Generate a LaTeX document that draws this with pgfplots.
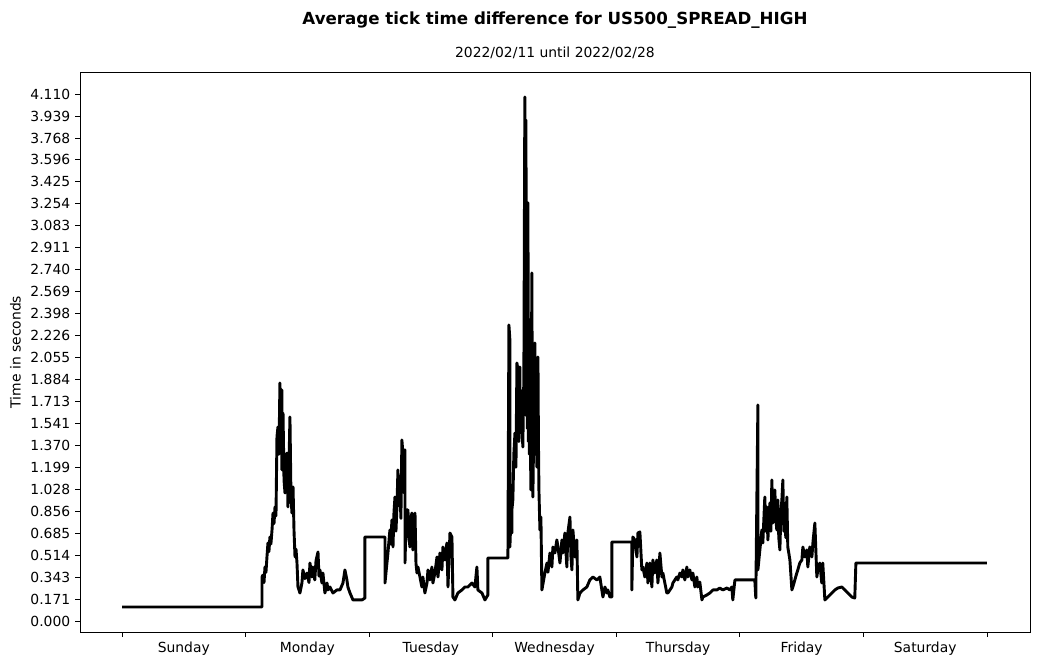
\documentclass[border=0pt]{standalone}
\usepackage{pgfplots}
\pgfplotsset{compat=1.18}
\usepackage{fontspec}
\setmainfont{DejaVu Sans}
\begin{document}
\begin{tikzpicture}
\begin{axis}[
  name=ax,
  scale only axis,
  width=684pt, height=403.2pt,
  xmin=-0.340, xmax=7.348,
  ymin=-0.086, ymax=4.282,
  axis line style={line width=0.6pt},
  tick align=outside,
  xtick pos=bottom, ytick pos=left,
  major tick length=3.5pt,
  tick style={black, line width=0.6pt},
  xtick={0,1,2,3,4,5,6,7},
  xticklabels={},
  extra x ticks={0.5,1.5,2.5,3.5,4.5,5.5,6.5},
  extra x tick labels={Sunday,Monday,Tuesday,Wednesday,Thursday,Friday,Saturday},
  extra x tick style={major tick length=0pt, xticklabel style={yshift=-3.5pt}},
  ytick={0,0.17125,0.3425,0.51375,0.685,0.85625,1.0275,1.19875,1.37,1.54125,1.7125,1.88375,2.055,2.22625,2.3975,2.56875,2.74,2.91125,3.0825,3.25375,3.425,3.59625,3.7675,3.93875,4.11},
  yticklabels={0.000,0.171,0.343,0.514,0.685,0.856,1.028,1.199,1.370,1.541,1.713,1.884,2.055,2.226,2.398,2.569,2.740,2.911,3.083,3.254,3.425,3.596,3.768,3.939,4.110},
  ticklabel style={font=\fontsize{10}{12}\selectfont},
  /pgf/number format/assume math mode=true,
  ylabel={Time in seconds},
  ylabel style={font=\fontsize{10}{12}\selectfont, at={(ticklabel cs:0.5)}, xshift=0pt},
  clip=true,
]
\addplot[black, line width=2.1pt, line join=round] coordinates {
(0,0.109)(1.133,0.109)
(1.133,0.343)(1.141,0.359)(1.149,0.300)(1.157,0.421)(1.165,0.380)(1.173,0.499)(1.181,0.608)(1.189,0.540)(1.197,0.655)(1.205,0.600)(1.214,0.710)(1.222,0.842)(1.230,0.760)(1.238,0.889)(1.246,0.820)(1.254,1.435)(1.262,1.513)(1.270,1.300)(1.278,1.856)(1.286,1.500)(1.294,1.802)(1.294,1.178)(1.303,1.622)(1.311,1.100)(1.319,0.998)(1.327,1.250)(1.335,1.310)(1.343,0.889)(1.351,1.200)(1.359,1.591)(1.367,1.000)(1.375,0.842)(1.384,1.045)(1.392,0.700)(1.400,0.499)(1.408,0.560)(1.416,0.452)(1.424,0.265)(1.440,0.218)(1.456,0.296)(1.464,0.398)(1.480,0.330)(1.497,0.374)(1.513,0.300)(1.521,0.452)(1.537,0.343)(1.545,0.421)(1.560,0.320)(1.570,0.470)(1.586,0.538)(1.594,0.350)(1.602,0.398)(1.618,0.296)(1.626,0.374)(1.642,0.218)(1.659,0.296)(1.667,0.242)(1.683,0.265)(1.707,0.218)(1.739,0.242)(1.764,0.242)(1.788,0.296)(1.804,0.398)(1.820,0.320)(1.828,0.265)(1.845,0.218)(1.869,0.164)(1.901,0.164)(1.942,0.164)(1.966,0.179)
(1.966,0.655)(2.128,0.655)
(2.128,0.296)(2.152,0.530)(2.168,0.710)(2.176,0.600)(2.184,0.788)(2.193,0.577)(2.201,0.850)(2.209,0.967)(2.217,0.700)(2.225,0.889)(2.233,1.178)(2.241,0.900)(2.249,1.045)(2.257,0.800)(2.265,1.412)(2.273,1.310)(2.281,1.000)(2.290,1.334)(2.290,0.452)(2.298,0.750)(2.306,0.866)(2.314,0.866)(2.322,0.650)(2.330,0.577)(2.338,0.800)(2.346,0.842)(2.354,0.554)(2.362,0.700)(2.371,0.842)(2.379,0.450)(2.387,0.374)(2.395,0.421)(2.411,0.343)(2.427,0.265)(2.435,0.343)(2.451,0.218)(2.468,0.296)(2.476,0.398)(2.492,0.320)(2.508,0.421)(2.516,0.296)(2.532,0.374)(2.549,0.499)(2.557,0.343)(2.573,0.530)(2.589,0.398)(2.597,0.577)(2.613,0.476)(2.629,0.608)(2.638,0.265)(2.654,0.686)(2.670,0.655)(2.678,0.187)(2.694,0.164)(2.718,0.218)(2.751,0.242)(2.775,0.265)(2.799,0.265)(2.832,0.296)(2.856,0.265)(2.872,0.421)(2.880,0.242)(2.913,0.218)(2.937,0.164)(2.961,0.203)
(2.961,0.491)(3.123,0.491)
(3.131,2.309)(3.139,2.192)(3.139,0.577)(3.147,0.800)(3.155,0.686)(3.155,0.866)(3.163,0.944)(3.171,1.300)(3.180,1.466)(3.188,1.200)(3.196,2.012)(3.204,1.958)(3.212,1.400)(3.220,1.981)(3.220,1.466)(3.228,1.800)(3.236,1.513)(3.244,1.357)(3.248,1.700)(3.252,1.880)(3.260,4.087)(3.264,2.200)(3.269,3.908)(3.273,1.600)(3.277,2.504)(3.281,1.500)(3.285,3.261)(3.289,1.400)(3.293,2.114)(3.297,1.300)(3.301,2.348)(3.305,1.400)(3.309,1.022)(3.313,1.900)(3.317,2.715)(3.321,1.200)(3.325,0.967)(3.333,1.600)(3.341,2.168)(3.346,1.300)(3.350,1.724)(3.358,1.200)(3.366,2.059)(3.370,1.400)(3.374,1.022)(3.382,0.710)(3.390,0.811)(3.398,0.242)(3.422,0.374)(3.439,0.452)(3.447,0.380)(3.463,0.530)(3.479,0.421)(3.487,0.577)(3.503,0.530)(3.519,0.632)(3.528,0.577)(3.544,0.452)(3.560,0.632)(3.568,0.530)(3.584,0.686)(3.600,0.421)(3.608,0.686)(3.625,0.811)(3.633,0.500)(3.641,0.398)(3.649,0.710)(3.665,0.499)(3.681,0.632)(3.689,0.164)(3.706,0.218)(3.730,0.242)(3.762,0.265)(3.786,0.320)(3.811,0.343)(3.843,0.320)(3.867,0.343)(3.883,0.242)(3.892,0.187)(3.908,0.265)(3.924,0.218)(3.932,0.242)(3.948,0.187)(3.964,0.187)
(3.964,0.616)(4.126,0.616)
(4.126,0.242)(4.134,0.655)(4.150,0.632)(4.167,0.499)(4.175,0.686)(4.191,0.694)(4.207,0.398)(4.215,0.421)(4.231,0.343)(4.248,0.452)(4.256,0.296)(4.272,0.452)(4.288,0.265)(4.296,0.476)(4.312,0.374)(4.328,0.476)(4.337,0.296)(4.353,0.530)(4.369,0.343)(4.377,0.374)(4.393,0.296)(4.409,0.218)(4.417,0.218)(4.434,0.242)(4.450,0.265)(4.458,0.296)(4.474,0.320)(4.490,0.343)(4.498,0.320)(4.515,0.374)(4.531,0.343)(4.539,0.398)(4.555,0.320)(4.571,0.421)(4.579,0.343)(4.595,0.398)(4.612,0.320)(4.620,0.374)(4.636,0.265)(4.652,0.343)(4.660,0.265)(4.676,0.304)(4.693,0.164)(4.701,0.187)(4.733,0.203)(4.757,0.218)(4.782,0.242)(4.814,0.242)(4.838,0.257)(4.862,0.242)(4.895,0.257)(4.919,0.242)(4.935,0.265)(4.943,0.164)
(4.960,0.320)(5.121,0.320)
(5.129,0.179)(5.146,1.685)(5.146,0.398)(5.162,0.554)(5.178,0.710)(5.186,0.608)(5.202,0.967)(5.210,0.700)(5.218,0.889)(5.227,0.632)(5.235,0.800)(5.243,0.920)(5.251,0.700)(5.259,1.100)(5.267,0.764)(5.275,0.900)(5.283,1.022)(5.291,0.800)(5.299,0.710)(5.307,0.944)(5.315,0.650)(5.324,0.554)(5.332,0.850)(5.340,0.944)(5.348,1.100)(5.356,0.700)(5.364,0.764)(5.372,0.650)(5.380,0.967)(5.388,0.577)(5.405,0.476)(5.421,0.242)(5.429,0.265)(5.445,0.320)(5.461,0.374)(5.469,0.398)(5.485,0.452)(5.502,0.476)(5.510,0.577)(5.526,0.499)(5.542,0.554)(5.550,0.421)(5.566,0.577)(5.583,0.499)(5.591,0.608)(5.607,0.764)(5.623,0.343)(5.631,0.398)(5.647,0.452)(5.663,0.296)(5.671,0.452)(5.688,0.164)(5.712,0.187)(5.744,0.218)(5.769,0.242)(5.793,0.257)(5.825,0.265)(5.850,0.242)(5.874,0.218)(5.906,0.187)(5.930,0.179)
(5.939,0.452)(7.000,0.452)
};
\end{axis}
\node[font=\bfseries\fontsize{12}{14}\selectfont, anchor=base] at ([yshift=34.5pt]ax.north) {Average tick time difference for US500\_SPREAD\_HIGH};
\node[font=\fontsize{10}{12}\selectfont, anchor=base] at ([yshift=10.5pt]ax.north) {2022/02/11 until 2022/02/28};
\path (ax.south west) ++(-57.6pt,-23.04pt) rectangle ++(748.08pt,478.08pt);
\end{tikzpicture}
\end{document}
